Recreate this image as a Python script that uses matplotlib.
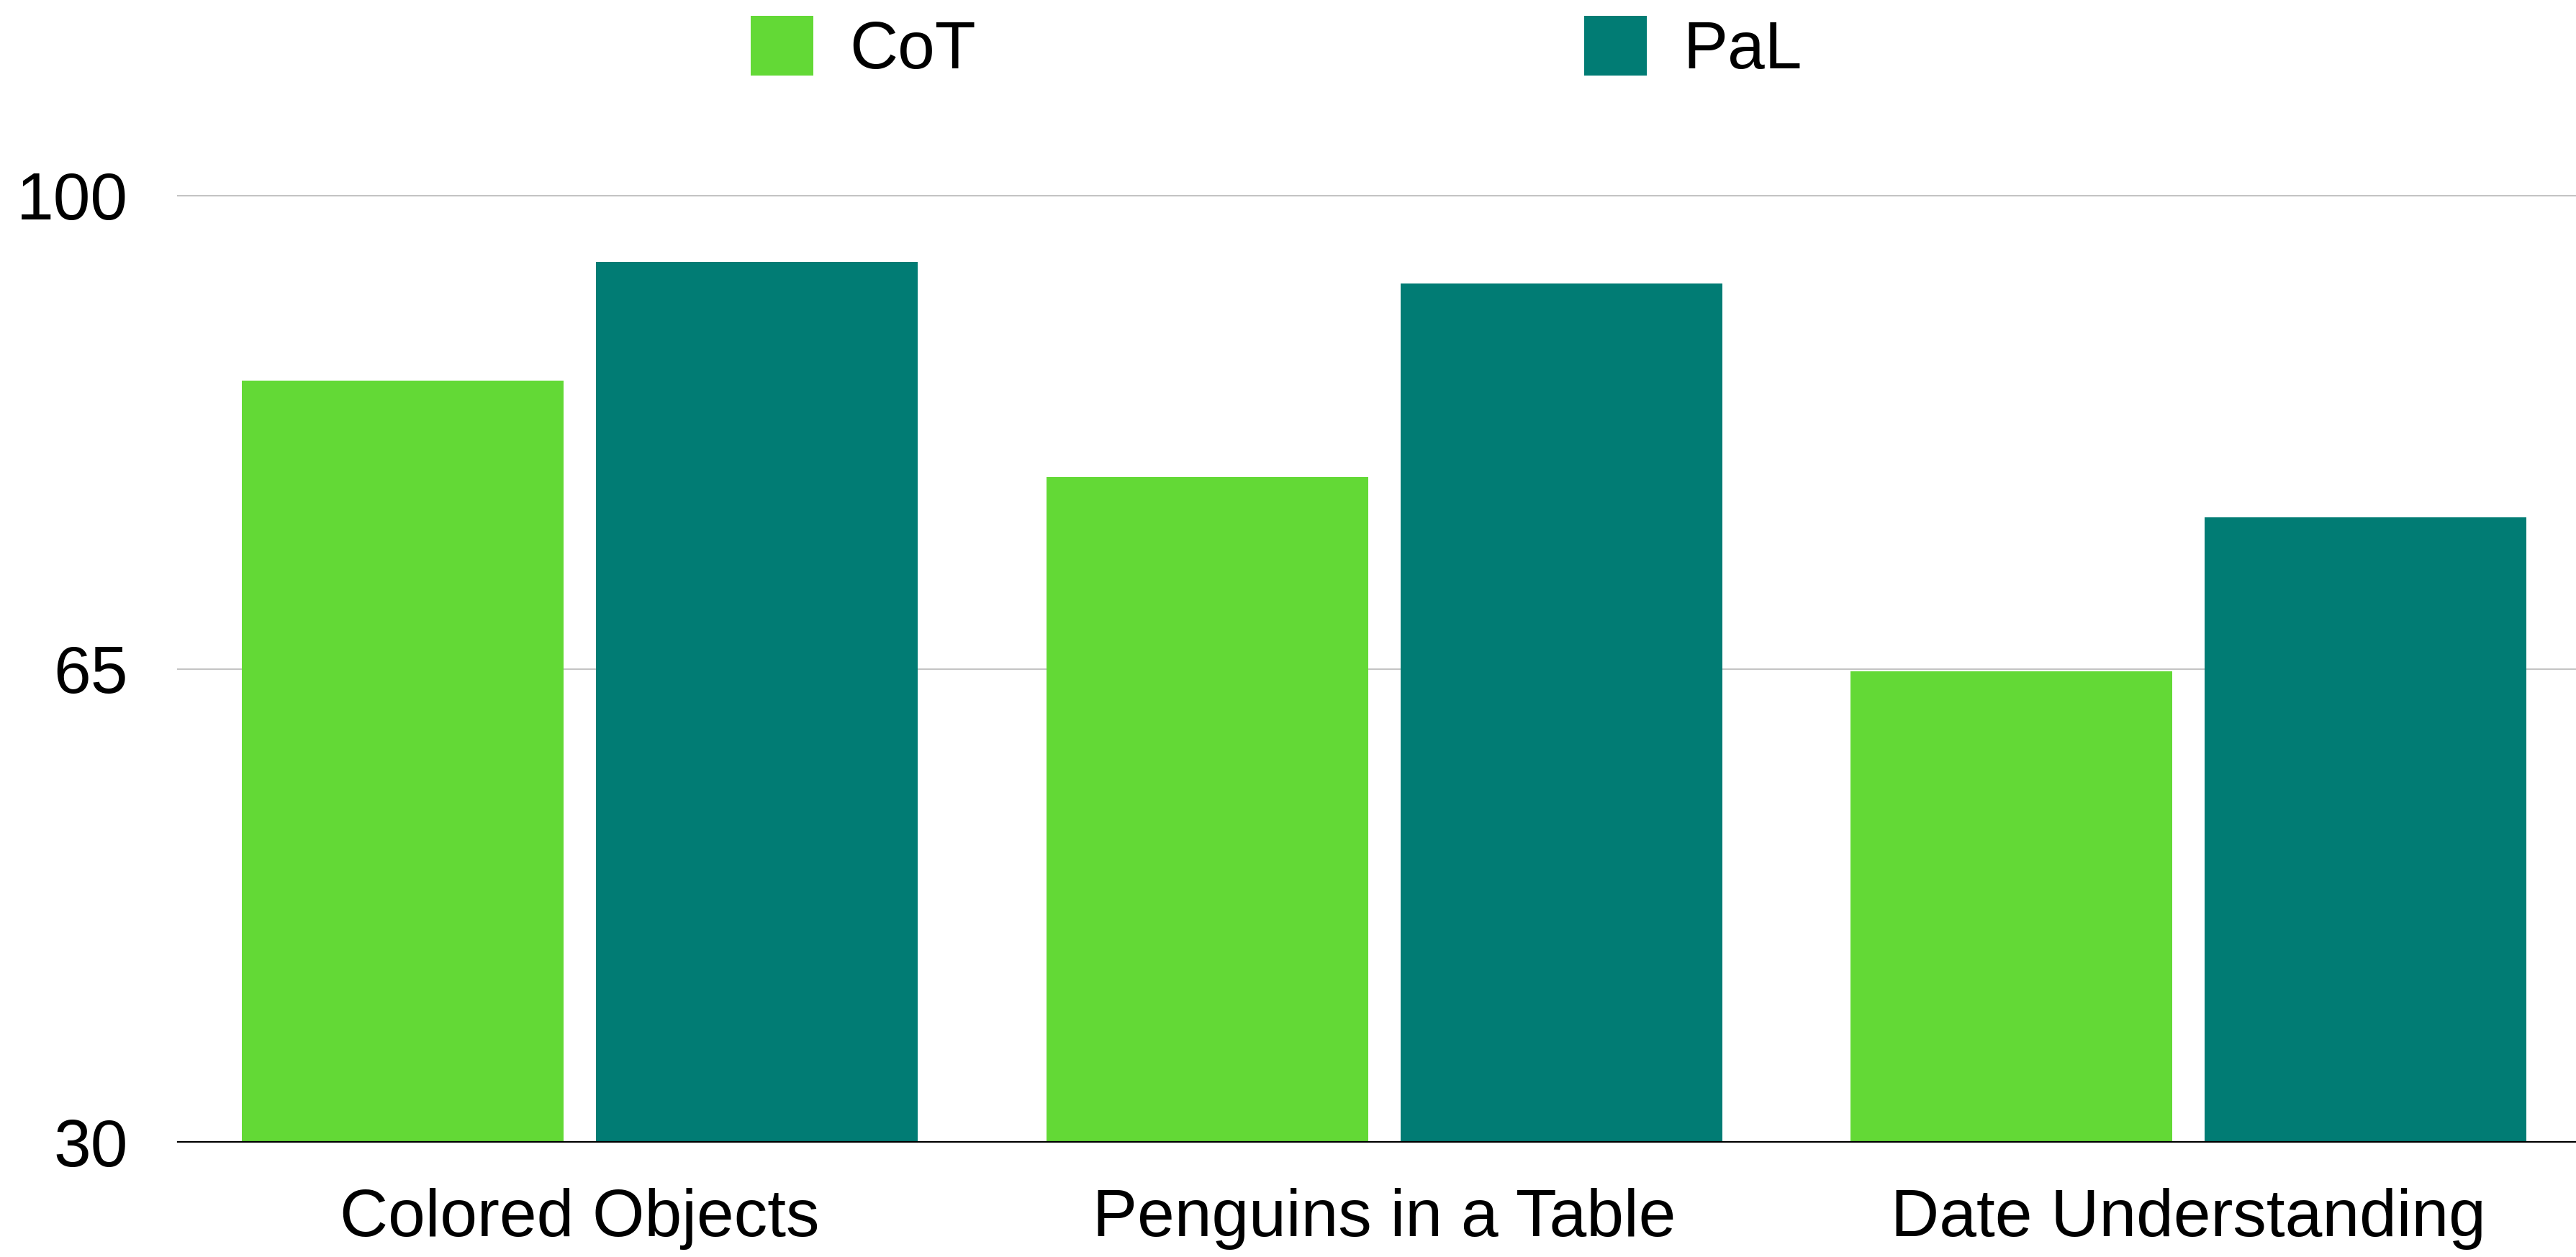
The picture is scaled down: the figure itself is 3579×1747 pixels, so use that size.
import matplotlib

matplotlib.use("Agg")
import matplotlib.pyplot as plt
import numpy as np
from matplotlib.patches import Patch

# accuracy per task
tasks = ["Colored Objects", "Penguins in a Table", "Date Understanding"]
cot_scores = [86.3, 79.2, 64.8]
pal_scores = [95.1, 93.5, 76.2]
y_ticks = [30, 65, 100]

COT_COLOR = "#63D936"
PAL_COLOR = "#017C74"
W, H, DPI = 3580, 1747, 100

plt.rcParams["font.family"] = ["Liberation Sans", "DejaVu Sans"]
FS = 67

fig = plt.figure(figsize=(W / DPI, H / DPI), dpi=DPI)
ax_left, ax_right = 247, W
ax_top, ax_bottom = 272, 1587
ax = fig.add_axes([ax_left / W, 1 - ax_bottom / H,
                   (ax_right - ax_left) / W, (ax_bottom - ax_top) / H])

x = np.arange(len(tasks))
width = 0.40
offset = 0.22
ax.bar(x - offset, [v - 30 for v in cot_scores], width, bottom=30,
       color=COT_COLOR, zorder=2)
ax.bar(x + offset, [v - 30 for v in pal_scores], width, bottom=30,
       color=PAL_COLOR, zorder=2)

group_px = 1117.5
ax.set_xlim(-0.5, -0.5 + (ax_right - ax_left) / group_px)
ax.set_ylim(30, 100)

ax.set_yticks(y_ticks)
ax.set_yticklabels([str(t) for t in y_ticks], fontsize=FS)
ax.set_xticks(x)
ax.set_xticklabels(tasks, fontsize=FS)
ax.tick_params(axis="y", length=0, pad=50)
ax.tick_params(axis="x", length=0, pad=46)

ax.yaxis.grid(True, color="#c4c4c4", linewidth=1.5, zorder=0)
ax.set_axisbelow(True)
for gl in ax.get_ygridlines():
    gl.set_clip_on(False)

for side in ("top", "right", "left"):
    ax.spines[side].set_visible(False)
ax.spines["bottom"].set_color("black")
ax.spines["bottom"].set_linewidth(1.6)
ax.spines["bottom"].set_zorder(3)

# one legend entry each, placed separately along the top
for label, color, x0 in (("CoT", COT_COLOR, 1043), ("PaL", PAL_COLOR, 2201)):
    fig.legend(handles=[Patch(facecolor=color)], labels=[label],
               loc="center left", bbox_to_anchor=(x0 / W, 1 - 68 / H),
               frameon=False, fontsize=FS, borderpad=0, borderaxespad=0,
               handlelength=0.93, handleheight=1.0, handletextpad=0.55)

fig.savefig("out.png", dpi=DPI)
plt.close(fig)
